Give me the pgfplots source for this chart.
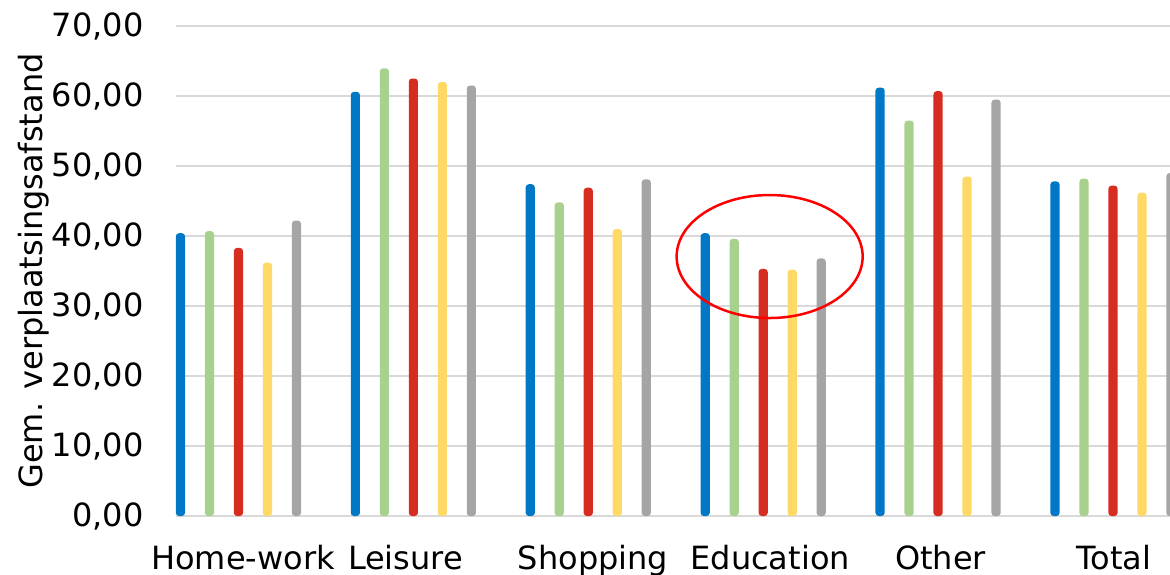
\documentclass[border=0pt]{standalone}
\usepackage{fontspec}
\setmainfont{DejaVu Sans}
\usepackage{pgfplots}
\usepackage{pgfplotstable}
\pgfplotsset{compat=1.18}

\definecolor{cBlue}{HTML}{0078C6}
\definecolor{cGreen}{HTML}{A9D18E}
\definecolor{cRed}{HTML}{D62D20}
\definecolor{cYellow}{HTML}{FFD966}
\definecolor{cGray}{HTML}{A5A5A5}
\definecolor{cGrid}{HTML}{D9D9D9}

% average trip distance per purpose, five series per purpose
\pgfplotstableread{
x   s1     s2     s3    s4    s5
0   40.40  40.70  38.30 36.20 42.20
1   60.60  63.95  62.50 62.00 61.50
2   47.40  44.80  46.90 41.00 48.10
3   40.40  39.60  35.30 35.20 36.80
4   61.20  56.50  60.70 48.50 59.50
5   47.80  48.20  47.20 46.20 49.00
}\dist

\newcommand{\lblfont}{\fontsize{16pt}{19pt}\selectfont}

\begin{document}
\begin{tikzpicture}[x=1pt,y=1pt]
\useasboundingbox (0,0) rectangle (585,287);
\begin{axis}[
  at={(88pt,29pt)}, anchor=south west,
  scale only axis, width=497pt, height=245pt,
  xmin=-0.357, xmax=5.326, ymin=0, ymax=70,
  clip=false,
  axis line style={draw=none},
  major tick length=0pt,
  ymajorgrids, grid style={cGrid, line width=0.8pt},
  ytick={0,10,...,70},
  yticklabel style={font=\lblfont, anchor=east, inner sep=0pt, xshift=-16pt},
  /pgf/number format/.cd, fixed, fixed zerofill, precision=2, use comma, assume math mode=true,
  /pgfplots/.cd,
  xtick={0.026,0.955,2.027,3.04,4.014,5.006},
  xticklabels={Home-work,Leisure,Shopping,Education,Other,Total},
  xticklabel style={font=\lblfont, anchor=base, inner sep=0pt, yshift=-26.5pt},
  ylabel={Gem. verplaatsingsafstand},
  ylabel style={font=\lblfont, at={(axis description cs:-0.1348,0.5)}, anchor=base, rotate=0},
  ybar, bar width=4.6pt,
  every axis plot/.append style={draw=none, rounded corners=1.6pt},
]
\addplot[fill=cBlue,   bar shift=-29pt]   table[x=x,y=s1]{\dist};
\addplot[fill=cGreen,  bar shift=-14.5pt] table[x=x,y=s2]{\dist};
\addplot[fill=cRed,    bar shift=0pt]     table[x=x,y=s3]{\dist};
\addplot[fill=cYellow, bar shift=14.5pt]  table[x=x,y=s4]{\dist};
\addplot[fill=cGray,   bar shift=29pt]    table[x=x,y=s5]{\dist};
\draw[red, line width=1.25pt] (axis cs:3.037,37.07) ellipse[x radius=46.5pt, y radius=30.75pt];
\end{axis}
\end{tikzpicture}
\end{document}
